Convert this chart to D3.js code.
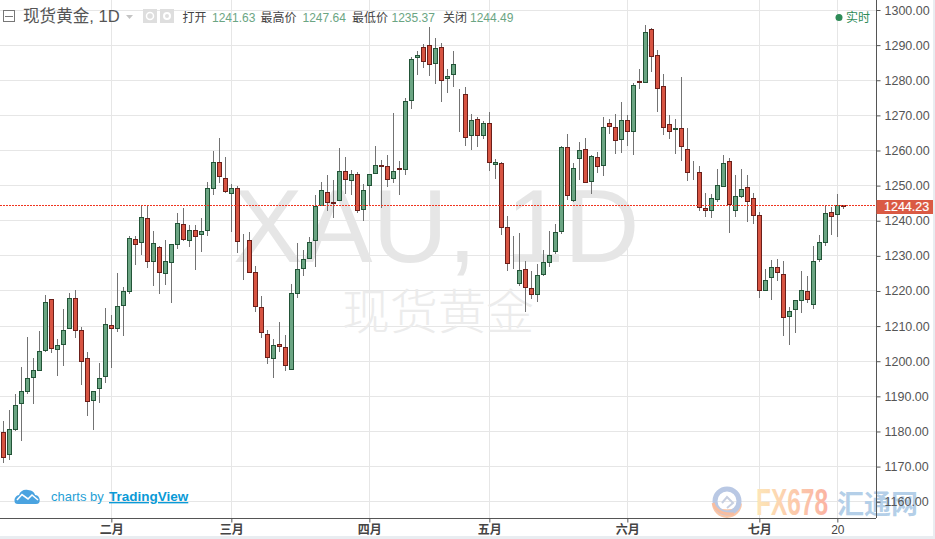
<!DOCTYPE html>
<html><head><meta charset="utf-8">
<style>
html,body{margin:0;padding:0;background:#fff;overflow:hidden}
svg{display:block}
text{font-family:"Liberation Sans",Arial,sans-serif}
.cjk{font-family:"Liberation Sans","Noto Sans CJK SC",sans-serif}
</style>
<script src="https://cdnjs.cloudflare.com/ajax/libs/d3/7.8.5/d3.min.js"></script>
</head><body><svg id="c" width="935" height="539"></svg>
<script>
const opens=[1179.8,1173.4,1180.5,1187.9,1191.3,1195.3,1197.3,1203.0,1217.6,1203.3,1204.7,1209.3,1217.9,1208.8,1200.8,1188.8,1192.2,1195.6,1210.2,1209.3,
1215.8,1219.8,1234.7,1233.6,1240.7,1228.3,1232.4,1224.9,1228.1,1233.2,1239.0,1234.3,1237.3,1236.0,1237.2,1249.0,1256.6,1252.3,1247.7,1249.2,
1234.1,1234.4,1225.3,1215.4,1207.7,1200.6,1204.8,1204.0,1197.4,1219.1,1226.2,1229.0,1234.2,1244.1,1248.1,1245.3,1245.5,1254.1,1251.2,1253.2,
1243.0,1249.8,1253.2,1255.8,1255.5,1252.0,1254.9,1254.4,1274.0,1286.2,1289.4,1289.9,1284.5,1289.4,1280.3,1281.4,1275.4,1276.0,1264.0,1268.9,
1264.0,1267.8,1256.0,1256.3,1238.1,1227.5,1221.9,1226.2,1220.8,1218.8,1224.5,1227.9,1231.0,1236.7,1260.9,1245.5,1257.5,1260.3,1250.9,1258.1,
1255.5,1267.8,1266.6,1262.9,1268.6,1265.4,1279.7,1279.1,1294.5,1287.1,1278.3,1267.4,1265.7,1266.3,1260.3,1253.8,1253.8,1243.5,1242.7,1245.8,
1249.5,1256.9,1242.7,1246.7,1249.5,1246.4,1241.6,1219.9,1223.6,1226.7,1224.8,1212.7,1214.5,1217.1,1219.9,1215.9,1228.7,1233.6,1242.4,1241.63,1244.4];
const highs=[1183.0,1186.1,1190.6,1198.3,1206.9,1200.9,1208.6,1218.9,1217.6,1206.3,1214.9,1219.4,1220.3,1209.7,1202.5,1191.4,1199.5,1215.2,1213.2,1225.1,
1221.0,1235.7,1235.7,1244.5,1244.5,1237.1,1232.8,1234.5,1233.3,1242.2,1243.6,1238.8,1238.8,1240.8,1251.1,1259.8,1263.5,1258.1,1250.5,1249.9,
1236.2,1236.8,1227.1,1218.6,1208.8,1206.4,1211.2,1207.5,1222.0,1233.7,1231.7,1235.4,1247.3,1251.0,1253.0,1251.6,1260.7,1258.2,1254.5,1253.9,
1250.5,1253.2,1261.3,1257.2,1258.7,1270.6,1257.0,1274.9,1286.6,1288.3,1290.3,1295.1,1291.9,1290.6,1283.1,1288.3,1277.4,1278.1,1270.3,1269.4,
1268.3,1270.9,1257.5,1256.6,1241.3,1235.6,1236.4,1228.5,1225.6,1227.6,1231.6,1237.1,1239.0,1261.2,1264.6,1256.3,1262.3,1263.6,1258.6,1259.5,
1269.4,1268.9,1270.3,1273.7,1270.0,1279.1,1283.2,1295.7,1294.8,1288.5,1281.7,1270.0,1268.9,1280.8,1266.3,1256.9,1255.5,1247.8,1247.5,1254.7,
1258.6,1257.8,1253.0,1254.7,1253.0,1247.9,1242.4,1226.3,1228.8,1229.1,1228.6,1215.4,1217.4,1225.7,1224.3,1232.7,1235.9,1244.4,1243.8,1247.64,1244.4];
const lows=[1171.1,1172.0,1180.2,1177.4,1190.8,1187.9,1197.3,1202.7,1202.4,1195.8,1198.7,1209.3,1206.7,1193.2,1184.5,1180.4,1188.2,1193.9,1198.2,1208.4,
1207.3,1219.2,1227.5,1230.1,1226.4,1221.5,1219.2,1221.8,1216.7,1232.0,1234.2,1232.6,1226.1,1231.2,1235.7,1247.3,1250.8,1247.8,1236.9,1230.9,
1223.0,1225.0,1214.1,1206.7,1199.3,1195.1,1202.5,1197.3,1197.4,1218.1,1224.4,1229.0,1226.9,1244.1,1242.9,1240.9,1245.5,1247.7,1247.2,1242.3,
1239.8,1244.3,1253.2,1243.7,1249.7,1250.6,1247.2,1253.1,1271.9,1281.5,1283.5,1281.3,1278.8,1273.9,1276.5,1278.2,1265.4,1261.4,1260.0,1261.1,
1263.2,1254.2,1252.0,1236.0,1225.8,1226.2,1221.4,1214.1,1217.6,1217.0,1224.4,1226.9,1230.4,1236.3,1245.9,1245.4,1251.6,1250.6,1247.7,1253.7,
1252.8,1264.8,1259.1,1259.4,1261.4,1258.8,1277.6,1279.1,1282.4,1271.1,1264.5,1263.4,1259.1,1257.1,1251.4,1251.7,1242.9,1241.2,1240.9,1245.2,
1249.5,1236.4,1241.2,1246.4,1239.7,1239.2,1218.1,1219.9,1217.5,1222.7,1207.3,1204.7,1208.1,1213.6,1216.7,1215.0,1228.3,1232.9,1236.0,1235.37,1243.4];
const closes=[1172.4,1180.6,1187.4,1191.4,1195.1,1197.4,1202.8,1216.8,1203.6,1204.5,1208.8,1217.9,1208.7,1199.9,1188.5,1191.4,1195.1,1210.5,1209.3,1215.6,
1219.9,1235.0,1233.2,1241.2,1228.3,1233.6,1225.2,1228.4,1233.3,1239.3,1234.6,1237.5,1235.5,1237.0,1249.3,1256.6,1252.5,1248.1,1249.2,1233.9,
1234.4,1225.0,1215.4,1208.0,1200.8,1204.5,1204.0,1198.6,1219.4,1226.2,1229.0,1233.9,1244.1,1248.7,1245.0,1244.7,1254.1,1251.5,1253.2,1242.7,
1248.7,1253.2,1255.8,1255.2,1251.5,1254.1,1254.4,1274.0,1286.0,1287.1,1285.1,1284.2,1289.1,1279.7,1281.1,1284.5,1275.1,1263.5,1268.6,1264.0,
1267.8,1256.3,1256.6,1237.8,1227.6,1227.7,1225.9,1220.8,1218.8,1224.5,1228.2,1230.2,1236.7,1260.9,1247.0,1254.9,1260.1,1250.7,1258.3,1255.2,
1266.6,1266.6,1262.6,1268.6,1265.4,1278.6,1279.1,1293.6,1286.5,1277.4,1266.3,1265.4,1266.3,1260.9,1253.5,1253.5,1243.5,1242.9,1246.4,1250.1,
1256.3,1244.4,1247.0,1249.0,1245.3,1241.3,1219.9,1223.0,1226.7,1225.0,1212.2,1214.2,1217.4,1220.2,1217.4,1228.5,1233.9,1242.1,1241.0,1244.49,1243.8];

const priceTicks=[1300,1290,1280,1270,1260,1250,1240,1230,1220,1210,1200,1190,1180,1170,1160];
const timeTickIndex=[18,38,61,81,104,126,139];
const timeTickLabels=["二月","三月","四月","五月","六月","七月","20"];
const currentPrice=1244.23;
const headerItems=[["打开","1241.63"],["最高价","1247.64"],["最低价","1235.37"],["关闭","1244.49"]];

const W=935,H=539,plotR=876,plotB=518;
const svg=d3.select("#c");
const x=d3.scaleLinear().domain([0,140]).range([3.33,843.33]);
const y=d3.scaleLinear().domain([1160,1300]).range([501.7,10]);
const px=v=>Math.floor(v)+0.5;

svg.append("rect").attr("width",W).attr("height",H).attr("fill","#fff");
svg.append("rect").attr("x",0).attr("y",536).attr("width",W).attr("height",3).attr("fill","#e9edf1");
svg.append("rect").attr("x",933).attr("y",0).attr("width",2).attr("height",H).attr("fill","#e9edf1");

const defs=svg.append("defs");
defs.append("clipPath").attr("id","plot").append("rect").attr("width",plotR).attr("height",plotB);
const grad=defs.append("linearGradient").attr("id","fxg");
grad.append("stop").attr("offset","0").attr("stop-color","#fde6b8");
grad.append("stop").attr("offset","1").attr("stop-color","#fbb3a2");

const plot=svg.append("g").attr("clip-path","url(#plot)");

// grid
plot.append("g").selectAll("line").data(priceTicks).join("line")
 .attr("x1",0).attr("x2",plotR).attr("y1",d=>px(y(d))).attr("y2",d=>px(y(d)))
 .attr("stroke","#e6e6e6");
plot.append("g").selectAll("line").data(timeTickIndex).join("line")
 .attr("y1",0).attr("y2",plotB).attr("x1",d=>px(x(d))).attr("x2",d=>px(x(d)))
 .attr("stroke","#e6e6e6");

// watermark
plot.append("text").attr("x",233).attr("y",262).attr("font-size",104.5).attr("fill","#e6e6e6").text("XAU, 1D");
plot.append("text").attr("class","cjk").attr("x",342).attr("y",329).attr("font-size",48).attr("font-weight",300).attr("fill","#ececec")
 .style("font-family",'"Noto Sans CJK SC",sans-serif').text("现货黄金");

// candles
const idx=d3.range(opens.length);
const c=plot.append("g");
c.selectAll("line").data(idx).join("line")
 .attr("x1",i=>px(x(i))).attr("x2",i=>px(x(i)))
 .attr("y1",i=>Math.round(y(highs[i]))).attr("y2",i=>Math.round(y(lows[i])))
 .attr("stroke","#737373");
c.selectAll("rect").data(idx).join("rect")
 .each(function(i){
   const t=Math.round(y(Math.max(opens[i],closes[i])))+0.5;
   const b=Math.max(Math.round(y(Math.min(opens[i],closes[i])))-0.5,t);
   const up=closes[i]>=opens[i];
   d3.select(this).attr("x",px(x(i))-2).attr("width",4).attr("y",t).attr("height",b-t)
     .attr("fill",up?"#6ba583":"#d75442").attr("stroke",up?"#225437":"#6b1f1a");
 });

// current price line
plot.append("line").attr("x1",0).attr("x2",plotR).attr("y1",px(y(currentPrice))).attr("y2",px(y(currentPrice)))
 .attr("stroke","#f0341f").attr("stroke-dasharray","2 1");

// TradingView mark
const tv=svg.append("g");
tv.append("path").attr("d","M15 503 C13 498 17 495 19 495 C20 491 24 489 28 490 C32 490 35 493 35 495 C39 495 41 500 39 503 Q38 504 36 504 L18 504 Q16 504 15 503 Z").attr("fill","#4aa3e0");
tv.append("path").attr("d","M17 500 L22 494.5 L28 499 L32 495 L38 500").attr("fill","none").attr("stroke","#fff").attr("stroke-width",1.6);
tv.append("text").attr("x",51).attr("y",501).attr("font-size",13).attr("fill","#1f9fd6").text("charts by");
tv.append("text").attr("x",109).attr("y",501).attr("font-size",13.5).attr("font-weight",700).attr("fill","#0a9ad6").attr("text-decoration","underline").text("TradingView");

// FX678 mark
const fx=svg.append("g");
fx.append("path").attr("d","M712 503 A15 15 0 0 0 742 503 A17 12 0 0 1 712 503 Z").attr("fill","#fbc7a8");
fx.append("circle").attr("cx",727).attr("cy",501).attr("r",12).attr("fill","none").attr("stroke","#b9c8e4").attr("stroke-width",5);
fx.append("path").attr("d","M722 503 L727 497 L733 503 L727 508").attr("fill","none").attr("stroke","#c7cfe0").attr("stroke-width",2);
fx.append("path").attr("d","M713 503 Q717 515 734 514").attr("fill","none").attr("stroke","#f8bda0").attr("stroke-width",3);
fx.append("text").attr("x",756).attr("y",515).attr("font-size",36).attr("font-weight",700).attr("textLength",72).attr("lengthAdjust","spacingAndGlyphs").attr("fill","url(#fxg)").text("FX678");
fx.append("text").attr("x",837).attr("y",514).attr("font-size",27).attr("font-weight",700).style("font-family",'"Noto Sans CJK SC",sans-serif').attr("fill","#b4cfe8").text("汇通网");

// axes
const ay=d3.axisRight(y).tickValues(priceTicks).tickFormat(d3.format(".2f")).tickSize(4).tickPadding(4);
const gy=svg.append("g").attr("transform",`translate(${px(plotR)},0)`).call(ay);
gy.select(".domain").attr("d",`M0,0V${plotB}`).attr("stroke","#555");
gy.selectAll(".tick line").attr("stroke","#555");
gy.selectAll("text").attr("font-size",12.5).attr("fill","#555").style("font-family",'"Liberation Sans",Arial,sans-serif');
const ax=d3.axisBottom(x).tickValues(timeTickIndex).tickFormat((d,i)=>timeTickLabels[i]).tickSize(4).tickPadding(3);
const gx=svg.append("g").attr("transform",`translate(0,${px(plotB)})`).call(ax);
gx.select(".domain").attr("d",`M0,0H${plotR}`).attr("stroke","#555");
gx.selectAll(".tick line").attr("stroke","#555");
gx.selectAll("text").attr("font-size",12).attr("fill","#444").attr("font-weight",(d,i)=>timeTickLabels[i]==="20"?400:700)
 .style("font-family",'"Liberation Sans","Noto Sans CJK SC",sans-serif');

// current price tag
svg.append("rect").attr("x",876.5).attr("y",200).attr("width",56.5).attr("height",14).attr("fill","#da5a44");
svg.append("text").attr("x",884).attr("y",211).attr("font-size",12.5).attr("stroke","#fff").attr("stroke-width",0.2).attr("fill","#fff").text(d3.format(".2f")(currentPrice));

// header
const hdr=svg.append("g");
hdr.append("rect").attr("x",3.5).attr("y",10.5).attr("width",11).attr("height",11).attr("fill","#fff").attr("stroke","#777");
hdr.append("line").attr("x1",5).attr("x2",13).attr("y1",16.5).attr("y2",16.5).attr("stroke","#777");
hdr.append("text").attr("class","cjk").attr("x",23).attr("y",22).attr("font-size",16.6).attr("fill","#555").text("现货黄金, 1D");
hdr.append("path").attr("d","M126 15 H133 L129.5 19 Z").attr("fill","#c4c4c4");
hdr.append("rect").attr("x",143).attr("y",9).attr("width",14).attr("height",14).attr("fill","#dedede");
hdr.append("circle").attr("cx",150).attr("cy",16).attr("r",3.5).attr("fill","none").attr("stroke","#fff").attr("stroke-width",1.5);
hdr.append("rect").attr("x",160).attr("y",9).attr("width",14).attr("height",14).attr("fill","#dedede");
hdr.append("circle").attr("cx",167).attr("cy",16).attr("r",3).attr("fill","none").attr("stroke","#fff").attr("stroke-width",2);
const labelX=[182.5,260.5,352,443], valueX=[212,302.5,391.5,470];
headerItems.forEach(([l,v],i)=>{
 hdr.append("text").attr("class","cjk").attr("x",labelX[i]).attr("y",22).attr("font-size",12).attr("fill","#444").text(l);
 hdr.append("text").attr("x",valueX[i]).attr("y",22).attr("font-size",12).attr("fill","#6ba583").text(v);
});
hdr.append("circle").attr("cx",839).attr("cy",17.5).attr("r",3.5).attr("fill","#2e8b57");
hdr.append("text").attr("class","cjk").attr("x",846).attr("y",21.5).attr("font-size",12).attr("fill","#2e8b57").text("实时");
</script></body></html>
